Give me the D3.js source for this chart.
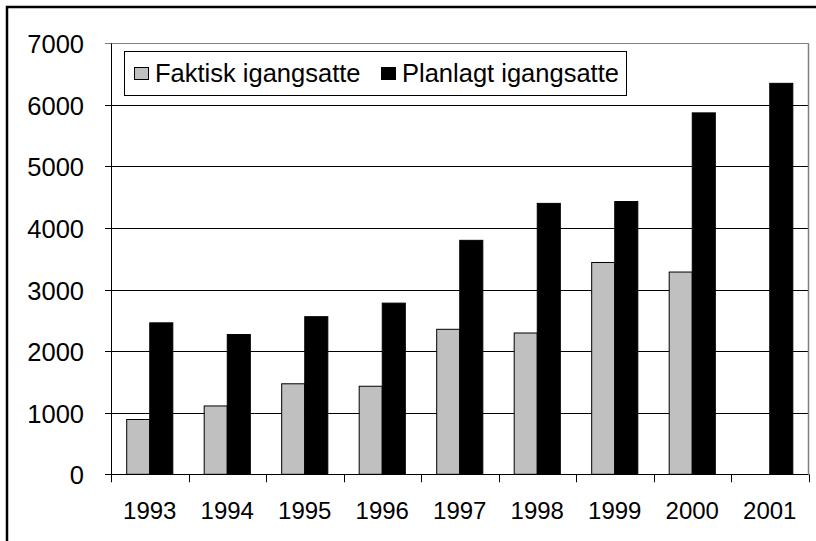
<!DOCTYPE html>
<html>
<head>
<meta charset="utf-8">
<script src="https://cdn.jsdelivr.net/npm/d3@7"></script>
<style>
  body { margin: 0; background: #fff; }
  text { font-family: "Liberation Sans", Arial, sans-serif; fill: #000; }
</style>
</head>
<body>
<div id="chart"></div>
<script>

// data
const years = ["1993", "1994", "1995", "1996", "1997", "1998", "1999", "2000", "2001"]
const faktisk = [890, 1110, 1470, 1430, 2355, 2295, 3440, 3285, null]
const planlagt = [2460, 2270, 2560, 2780, 3800, 4400, 4430, 5870, 6350]
const seriesNames = ["Faktisk igangsatte", "Planlagt igangsatte"]
const seriesColors = ["#c0c0c0", "#000000"]
const yTicks = [0, 1000, 2000, 3000, 4000, 5000, 6000, 7000]

const width = 816, height = 541
const plot = { left: 111, right: 808.5, top: 43.3, bottom: 474.3 }

const svg = d3.select("#chart").append("svg")
    .attr("width", width)
    .attr("height", height)

// outer frame (runs off the right and bottom edge)
svg.append("rect")
    .attr("x", 7).attr("y", 7)
    .attr("width", width + 20).attr("height", height + 20)
    .attr("fill", "none")
    .attr("stroke", "#000")
    .attr("stroke-width", 2.5)

const x = d3.scaleBand().domain(years).range([plot.left, plot.right]).paddingInner(0).paddingOuter(0)
const x1 = d3.scaleBand().domain(seriesNames).range([0, x.bandwidth()]).paddingInner(0).paddingOuter(0.68)
const y = d3.scaleLinear().domain([0, 7000]).range([plot.bottom, plot.top])

// gridlines + left ticks
svg.append("g").selectAll("line")
    .data(yTicks.filter(d => d > 0))
    .join("line")
    .attr("x1", plot.left - 6).attr("x2", plot.right)
    .attr("y1", d => Math.round(y(d)) + 0.5).attr("y2", d => Math.round(y(d)) + 0.5)
    .attr("stroke", d => d === 7000 ? "#808080" : "#000")
    .attr("stroke-width", 1)

// right edge of plot area
svg.append("line")
    .attr("x1", plot.right).attr("x2", plot.right)
    .attr("y1", plot.top).attr("y2", plot.bottom)
    .attr("stroke", "#808080").attr("stroke-width", 1.5)

// bars
const rows = years.map((yr, i) => [
    { year: yr, s: seriesNames[0], v: faktisk[i], c: seriesColors[0] },
    { year: yr, s: seriesNames[1], v: planlagt[i], c: seriesColors[1] }
]).flat().filter(d => d.v != null)

svg.append("g").selectAll("rect")
    .data(rows)
    .join("rect")
    .attr("x", d => x(d.year) + x1(d.s))
    .attr("y", d => y(d.v))
    .attr("width", x1.bandwidth())
    .attr("height", d => y(0) - y(d.v))
    .attr("fill", d => d.c)
    .attr("stroke", "#000")
    .attr("stroke-width", 1)

// y axis line
svg.append("line")
    .attr("x1", plot.left + 0.5).attr("x2", plot.left + 0.5)
    .attr("y1", plot.top).attr("y2", plot.bottom)
    .attr("stroke", "#000")

// x axis line + ticks
svg.append("line")
    .attr("x1", plot.left - 6).attr("x2", plot.right)
    .attr("y1", Math.round(plot.bottom) + 0.5).attr("y2", Math.round(plot.bottom) + 0.5)
    .attr("stroke", "#000")

const bounds = years.map(d => x(d)).concat([plot.right])
svg.append("g").selectAll("line")
    .data(bounds)
    .join("line")
    .attr("x1", d => Math.round(d) + 0.5).attr("x2", d => Math.round(d) + 0.5)
    .attr("y1", plot.bottom).attr("y2", plot.bottom + 8)
    .attr("stroke", "#000")

// y labels
svg.append("g").selectAll("text")
    .data(yTicks)
    .join("text")
    .attr("x", 84)
    .attr("y", d => y(d) + 10)
    .attr("text-anchor", "end")
    .style("font-size", "25.5px")
    .text(d => d)

// x labels
svg.append("g").selectAll("text")
    .data(years)
    .join("text")
    .attr("x", d => x(d) + x.bandwidth() / 2)
    .attr("y", 519)
    .attr("text-anchor", "middle")
    .style("font-size", "24px")
    .text(d => d)

// legend
const legend = svg.append("g")
legend.append("rect")
    .attr("x", 124.5).attr("y", 51.5)
    .attr("width", 502).attr("height", 44)
    .attr("fill", "#fff")
    .attr("stroke", "#000")
    .attr("stroke-width", 1)

const legendX = [134, 381]
seriesNames.forEach(function(name, i) {
    legend.append("rect")
        .attr("x", legendX[i] + 0.5).attr("y", 67.5)
        .attr("width", 14).attr("height", 12)
        .attr("fill", seriesColors[i])
        .attr("stroke", "#000")
    legend.append("text")
        .attr("x", legendX[i] + 21)
        .attr("y", 82)
        .style("font-size", "25.5px")
        .text(name)
})

</script>
</body>
</html>
